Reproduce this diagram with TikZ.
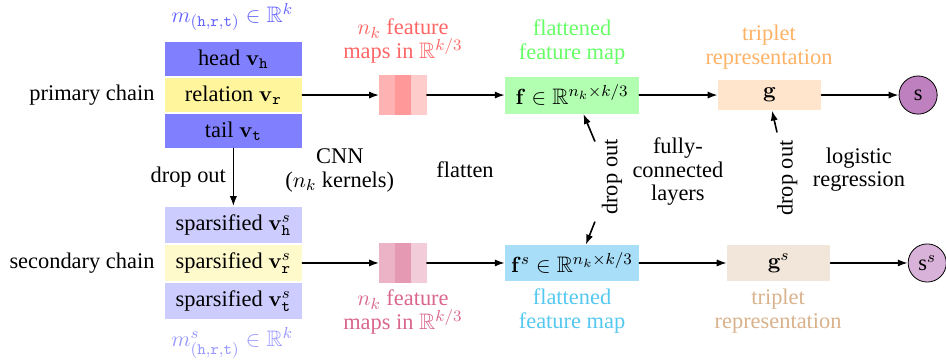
\documentclass[tikz,border=0pt]{standalone}
\usepackage{amsmath,amssymb}
\usepackage[no-math]{fontspec}
\setmainfont{Liberation Serif}
\usetikzlibrary{arrows.meta,calc,positioning}

\definecolor{relyellow}{HTML}{FFF59D}
\definecolor{srelyellow}{HTML}{FFFACC}
\definecolor{fsblue}{HTML}{A8DEF8}
\definecolor{fsbluetext}{HTML}{55C8F0}

\begin{document}
\begin{tikzpicture}[>={Latex[length=5pt,width=3.6pt]}, line cap=round, line join=round,
		every node/.style={font=\fontsize{11.2}{11.8}\selectfont},
		embbox/.style={inner sep=0pt, minimum width=2.41cm, minimum height=0.6cm},
		sembbox/.style={inner sep=0pt, minimum width=2.41cm, minimum height=0.64cm},
		mapstripe/.style={inner sep=0pt, outer sep=0pt, minimum width=0.28cm, minimum height=0.7cm},
		featbox/.style={inner sep=0pt, minimum width=2.35cm, minimum height=0.65cm},
		tripbox/.style={inner sep=0pt, minimum width=1.81cm, minimum height=0.53cm},
		scorenode/.style={circle, draw, inner sep=0pt, minimum size=0.67cm},
		flow/.style={->, thick}]
		
		% picture frame, margins included
		\useasboundingbox (0,0) rectangle (16.62,-6.325);
		
		% --- Top: primary chain ---
		\node[embbox, fill=blue!50] (head) at (4.10,-1.04) {head $\mathbf{v}_{\mathtt{h}}$};
		\node[embbox, fill=relyellow] (rel) at (4.10,-1.67) {relation $\mathbf{v}_{\mathtt{r}}$};
		\node[embbox, fill=blue!50] (tail) at (4.10,-2.30) {tail $\mathbf{v}_{\mathtt{t}}$};
		\node[text=blue!60] (m) at (4.08,-0.30) {$m_{(\mathtt{h},\mathtt{r},\mathtt{t})}\in\mathbb{R}^k$};
		\node[left=0.05cm of rel] (primary) {primary chain};
		
		% feature maps
		\node[mapstripe, fill=red!40] (fm) at (7.08,-1.67) {};
		\node[mapstripe, fill=red!30, left=0pt of fm] (fmleft) {};
		\node[mapstripe, fill=red!20, right=0pt of fm] (fmright) {};
		\node[text=red!60, align=center] (fmlabel) at (7.08,-0.72) {$n_k$ feature\\maps in $\mathbb{R}^{k/3}$};
		
		% flattened feature map
		\node[featbox, fill=green!30] (f) at (10.05,-1.67) {$\mathbf{f}\in\mathbb{R}^{n_k\times k/3}$};
		\node[text=green!60, align=center] (flabel) at (10.05,-0.74) {flattened\\feature map};
		
		% triplet representation and score
		\node[tripbox, fill=orange!20] (g) at (13.52,-1.67) {$\mathbf{g}$};
		\node[text=orange!60, align=center] (glabel) at (13.51,-0.83) {triplet\\representation};
		\node[scorenode, fill=violet!50] (s) at (16.13,-1.67) {s};
		
		\draw[flow] (rel) -- (fmleft);
		\draw[flow] (fmright) -- (f);
		\draw[flow] (f) -- (g);
		\draw[flow] (g) -- (s);
		
		% --- Bottom: secondary chain ---
		\node[sembbox, fill=blue!20] (shead) at (4.10,-3.95) {sparsified $\mathbf{v}^s_{\mathtt{h}}$};
		\node[sembbox, fill=srelyellow] (srel) at (4.10,-4.62) {sparsified $\mathbf{v}^s_{\mathtt{r}}$};
		\node[sembbox, fill=blue!20] (stail) at (4.10,-5.29) {sparsified $\mathbf{v}^s_{\mathtt{t}}$};
		\node[text=blue!40] (ms) at (4.08,-6.03) {$m^s_{(\mathtt{h},\mathtt{r},\mathtt{t})}\in\mathbb{R}^k$};
		\node[left=0.05cm of srel] (secondary) {secondary chain};
		
		\node[mapstripe, fill=purple!40] (sfm) at (7.08,-4.62) {};
		\node[mapstripe, fill=purple!30, left=0pt of sfm] (sfmleft) {};
		\node[mapstripe, fill=purple!20, right=0pt of sfm] (sfmright) {};
		\node[text=purple!60, align=center] (sfmlabel) at (7.08,-5.48) {$n_k$ feature\\maps in $\mathbb{R}^{k/3}$};
		
		\node[featbox, minimum height=0.63cm, fill=fsblue] (fs) at (10.05,-4.62) {$\mathbf{f}^s\in\mathbb{R}^{n_k\times k/3}$};
		\node[text=fsbluetext, align=center] (fslabel) at (10.05,-5.46) {flattened\\feature map};
		
		\node[tripbox, minimum height=0.62cm, fill=brown!20] (gs) at (13.68,-4.62) {$\mathbf{g}^s$};
		\node[text=brown!60, align=center] (gslabel) at (13.67,-5.47) {triplet\\representation};
		\node[scorenode, fill=violet!30] (ss) at (16.29,-4.62) {s$^s$};
		
		\draw[flow] (srel) -- (sfmleft);
		\draw[flow] (sfmright) -- (fs);
		\draw[flow] (fs) -- (gs);
		\draw[flow] (gs) -- (ss);
		
		% --- Between the chains: drop out and layer names ---
		\draw[flow] (tail) -- node[left] {drop out} (shead);
		
		\node[align=center] (cnn) at (5.97,-2.99) {CNN\\($n_k$ kernels)};
		\node (flatten) at (8.17,-2.99) {flatten};
		\node[rotate=90] (drop1) at (10.75,-3.11) {drop out};
		\node[align=center] (fc) at (11.91,-3.02) {fully-\\connected\\layers};
		\node[rotate=90] (drop2) at (13.83,-3.13) {drop out};
		\node[align=center] (lr) at (15.09,-2.98) {logistic\\regression};
		
		\coordinate (d1up) at (10.45,-2.48);
		\coordinate (d1down) at (10.45,-3.90);
		\coordinate (d2up) at (13.65,-2.32);
		\draw[flow] (d1up) -- (f.-59);
		\draw[flow] (d1down) -- (fs.53);
		\draw[flow] (d2up) -- (g.-81);
		
	\end{tikzpicture}
\end{document}
